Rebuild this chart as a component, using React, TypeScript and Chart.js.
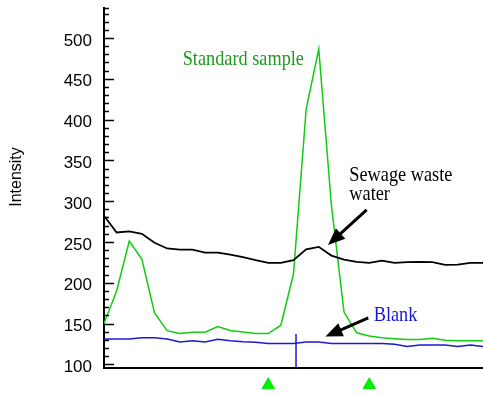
import React, { useEffect, useRef } from "react";
import { Chart, registerables } from "chart.js";

Chart.register(...registerables);

// scan positions (x) 0..30
const scanIndex = [0,1,2,3,4,5,6,7,8,9,10,11,12,13,14,15,16,17,18,19,20,21,22,23,24,25,26,27,28,29,30];

const sewageWater = [282, 261.6, 263, 260, 249, 242, 240.7, 240.7, 237, 237, 234.6, 231.3, 227.6, 224.3, 224.3, 227.6, 241, 244, 233.3, 228.4, 225.5, 224.3, 227.2, 224.3, 225.2, 225.5, 225.2, 221.9, 222.3, 224.3, 224.3];
const standardSample = [150, 190, 251, 228.8, 163, 141.3, 137.7, 139.3, 139.3, 146.2, 141.5, 139.6, 137.7, 137.7, 148, 211, 412.5, 486.5, 295, 164, 138.6, 134.8, 132.7, 131.5, 130.3, 130.3, 131.9, 129.4, 129, 129, 129];
const blank = [131, 131, 131, 132.7, 132.7, 131, 127.4, 129, 127.4, 130.7, 129, 127.8, 127, 125.4, 125.4, 125.4, 127.4, 127.4, 125.4, 125.4, 125.4, 125.4, 125.4, 124.5, 122, 123.7, 123.7, 123.7, 122, 123.7, 122];

const yTickValues = [100, 150, 200, 250, 300, 350, 400, 450, 500];
const yMin = 95.5;
const yMax = 536.8;

// blue vertical marker on the blank trace
const markerX = [15.2, 15.2];
const markerY = [yMin, 137.2];

// green triangles under the x axis (data coordinates, below the axis)
const triangleX = [13, 21];
const triangleY = [74.8, 74.8];

// annotations (data coordinates)
const annotations = [
  { text: "Standard sample", x: 6.23, y: 467.2, color: "#1f9a1f" },
  { text: "Sewage waste", x: 19.42, y: 324.9, color: "#000000" },
  { text: "water", x: 19.42, y: 301.6, color: "#000000" },
  { text: "Blank", x: 21.35, y: 153.5, color: "#1515e0" },
];
const arrows = [
  { x1: 20.79, y1: 289.3, x2: 17.73, y2: 246.4 },
  { x1: 20.92, y1: 156.8, x2: 17.53, y2: 134.1 },
];

const decorPlugin = {
  id: "decor",
  afterDraw(chart: any) {
    const ctx = chart.ctx;
    const xs = chart.scales.x;
    const ys = chart.scales.y;
    const area = chart.chartArea;
    ctx.save();
    // inward ticks on y axis
    ctx.strokeStyle = "#000";
    ctx.lineWidth = 1.5;
    for (let v = 100; v <= 530; v += 10) {
      const py = Math.round(ys.getPixelForValue(v)) + 0.5;
      const len = v % 50 === 0 ? 10 : 5;
      ctx.beginPath();
      ctx.moveTo(area.left, py);
      ctx.lineTo(area.left + len, py);
      ctx.stroke();
    }
    ctx.beginPath();
    ctx.moveTo(area.left, area.top + 0.5);
    ctx.lineTo(area.left + 5, area.top + 0.5);
    ctx.stroke();

    // y title
    ctx.save();
    ctx.translate(17, 177);
    ctx.rotate(-Math.PI / 2);
    ctx.font = "16px 'Liberation Sans', Arial, sans-serif";
    ctx.fillStyle = "#000";
    ctx.textAlign = "center";
    ctx.textBaseline = "middle";
    ctx.fillText("Intensity", 0, 0);
    ctx.restore();

    // green triangles below the axis
    ctx.fillStyle = "#00ee00";
    triangleX.forEach((tx, i) => {
      const cx = xs.getPixelForValue(tx);
      const cy = ys.getPixelForValue(triangleY[i]);
      const r = 8;
      ctx.beginPath();
      ctx.moveTo(cx, cy - r);
      ctx.lineTo(cx + r * Math.sin((2 * Math.PI) / 3), cy + r / 2);
      ctx.lineTo(cx - r * Math.sin((2 * Math.PI) / 3), cy + r / 2);
      ctx.closePath();
      ctx.fill();
    });

    // annotation texts
    ctx.font = "21px 'Liberation Serif', 'Times New Roman', serif";
    ctx.textBaseline = "alphabetic";
    ctx.textAlign = "left";
    for (const a of annotations) {
      ctx.save();
      ctx.translate(xs.getPixelForValue(a.x), ys.getPixelForValue(a.y));
      ctx.scale(0.87, 1);
      ctx.fillStyle = a.color;
      ctx.fillText(a.text, 0, 0);
      ctx.restore();
    }

    // arrows
    for (const ar of arrows) {
      const x1 = xs.getPixelForValue(ar.x1), y1 = ys.getPixelForValue(ar.y1);
      const x2 = xs.getPixelForValue(ar.x2), y2 = ys.getPixelForValue(ar.y2);
      const ang = Math.atan2(y2 - y1, x2 - x1);
      const hl = 17, hw = 7;
      const bx = x2 - Math.cos(ang) * hl, by = y2 - Math.sin(ang) * hl;
      ctx.strokeStyle = "#000";
      ctx.lineWidth = 3;
      ctx.beginPath();
      ctx.moveTo(x1, y1);
      ctx.lineTo(bx + Math.cos(ang) * 2, by + Math.sin(ang) * 2);
      ctx.stroke();
      ctx.fillStyle = "#000";
      ctx.beginPath();
      ctx.moveTo(x2, y2);
      ctx.lineTo(bx - Math.sin(ang) * hw, by + Math.cos(ang) * hw);
      ctx.lineTo(bx + Math.sin(ang) * hw, by - Math.cos(ang) * hw);
      ctx.closePath();
      ctx.fill();
    }
    ctx.restore();
  },
};

const toPoints = (xsArr: number[], ysArr: number[]) => xsArr.map((x, i) => ({ x, y: ysArr[i] }));

export default function App() {
  const ref = useRef<HTMLCanvasElement | null>(null);
  useEffect(() => {
    document.body.style.margin = "0";
    const canvas = ref.current;
    if (!canvas) return;
    const chart = new Chart(canvas, {
      type: "line",
      data: {
        datasets: [
          {
            label: "Sewage waste water",
            data: toPoints(scanIndex, sewageWater),
            borderColor: "#000000",
            borderWidth: 1.8,
            pointRadius: 0,
            tension: 0,
          },
          {
            label: "Standard sample",
            data: toPoints(scanIndex, standardSample),
            borderColor: "#11cc11",
            borderWidth: 1.5,
            pointRadius: 0,
            tension: 0,
          },
          {
            label: "Blank",
            data: toPoints(scanIndex, blank),
            borderColor: "#1a1ad0",
            borderWidth: 1.5,
            pointRadius: 0,
            tension: 0,
          },
          {
            label: "marker",
            data: toPoints(markerX, markerY),
            borderColor: "#1a1ad0",
            borderWidth: 1.5,
            pointRadius: 0,
          },
        ],
      },
      options: {
        animation: false,
        responsive: false,
        events: [],
        layout: { autoPadding: false, padding: { top: 8, right: 0, left: 0, bottom: 0 } },
        plugins: { legend: { display: false }, tooltip: { enabled: false }, title: { display: false } },
        scales: {
          x: {
            type: "linear",
            min: 0,
            max: 30,
            grid: { display: false, drawTicks: false },
            border: { display: true, color: "#000", width: 2 },
            ticks: { display: false },
            afterFit: (s: any) => { s.height = 26; s.paddingLeft = 0; s.paddingRight = 0; },
          },
          y: {
            type: "linear",
            min: yMin,
            max: yMax,
            grid: { display: false, drawTicks: false },
            border: { display: true, color: "#000", width: 2 },
            afterBuildTicks: (s: any) => { s.ticks = yTickValues.map((v) => ({ value: v })); },
            afterFit: (s: any) => { s.width = 104; s.paddingTop = 0; s.paddingBottom = 0; },
            ticks: {
              padding: 12,
              labelOffset: 3,
              color: "#000",
              font: { family: "'Liberation Sans', Arial, sans-serif", size: 17 },
              callback: (v: any) => String(v),
            },
          },
        },
      },
      plugins: [decorPlugin],
    });
    return () => chart.destroy();
  }, []);
  return <canvas ref={ref} width={483} height={394} style={{ display: "block" }} />;
}
